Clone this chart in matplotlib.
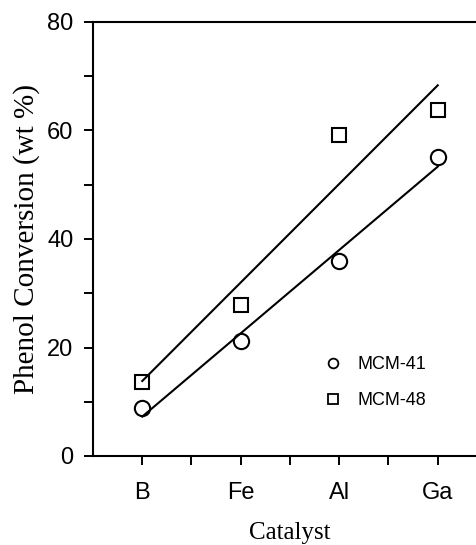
import numpy as np
import matplotlib.pyplot as plt
from matplotlib.lines import Line2D
from matplotlib.ticker import MultipleLocator, FixedLocator

# ------------------------------------------
# Data
# ------------------------------------------
catalysts = ["B", "Fe", "Al", "Ga"]
mcm41 = [8.9, 21.2, 35.9, 55.2]
mcm48 = [13.6, 27.8, 59.2, 63.7]
y_ticks = [0, 20, 40, 60, 80]

x = np.arange(1, len(catalysts) + 1)

# linear fits drawn through each series
fit41 = np.polyfit(x, mcm41, 1)
fit48 = np.polyfit(x, mcm48, 1)

sans = ["Liberation Sans", "DejaVu Sans"]
serif = ["Liberation Serif", "DejaVu Serif"]

fig = plt.figure(figsize=(4.77, 5.45), dpi=100)
# right end of the axes is cut off in the original, like here
ax = fig.add_axes([93 / 477, 89 / 545, 394 / 477, 434 / 545])

ax.plot(x, np.polyval(fit41, x), color="black", lw=1.5)
ax.plot(x, np.polyval(fit48, x), color="black", lw=1.5)
ax.plot(x, mcm41, "o", ms=11, mfc="none", mec="black", mew=1.5)
ax.plot(x, mcm48, "s", ms=10, mfc="none", mec="black", mew=1.5)

ax.set_xlim(0.5, 4.5)
ax.set_ylim(0, 80)
ax.set_xticks(x)
ax.set_xticklabels(catalysts, family=sans, fontsize=17)
ax.xaxis.set_minor_locator(FixedLocator([1.5, 2.5, 3.5]))
ax.set_yticks(y_ticks)
ax.set_yticklabels([str(v) for v in y_ticks], family=sans, fontsize=17)
ax.yaxis.set_minor_locator(MultipleLocator(10))

ax.tick_params(which="both", direction="out", length=6.5, width=1.4, color="black")
ax.tick_params(axis="x", pad=12)
ax.tick_params(axis="y", pad=7.5)
for side in ["left", "bottom", "top"]:
    ax.spines[side].set_linewidth(1.5)
ax.spines["right"].set_visible(False)

ax.set_xlabel("Catalyst", family=serif, fontsize=18, labelpad=13)
ax.set_ylabel("Phenol Conversion (wt %)", family=serif, fontsize=21, labelpad=5)

handles = [
    Line2D([], [], ls="none", marker="o", ms=7, mfc="none", mec="black", mew=1.3),
    Line2D([], [], ls="none", marker="s", ms=7, mfc="none", mec="black", mew=1.3),
]
ax.legend(handles, ["MCM-41", "MCM-48"], loc="upper left",
          bbox_to_anchor=(315 / 477, 1 - 347 / 545), bbox_transform=fig.transFigure,
          frameon=False, prop={"family": sans, "size": 13},
          handlelength=1.0, handletextpad=0.85, labelspacing=1.05, borderpad=0)

fig.savefig("out.png", dpi=100)
